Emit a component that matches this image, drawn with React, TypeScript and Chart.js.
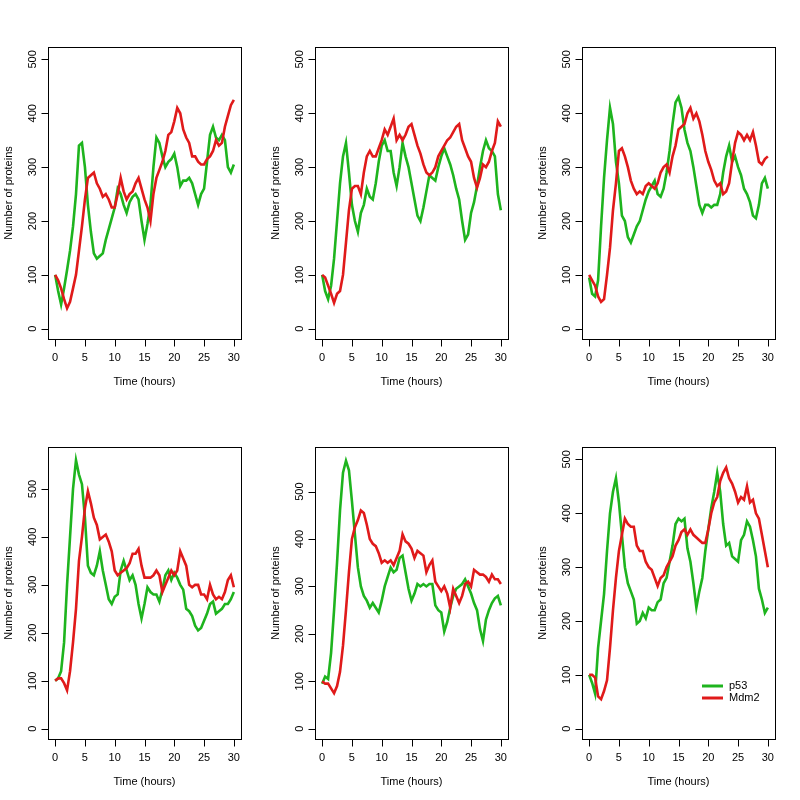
import React, { useEffect, useRef } from 'react';
import { Chart, registerables } from 'chart.js';
Chart.register(...registerables);

// ---- data ----
const times = [
  0, 0.5, 1, 1.5, 2, 2.5, 3, 3.5, 4, 4.5, 5, 5.5, 6, 6.5, 7, 7.5, 8, 8.5, 9, 9.5,
  10, 10.5, 11, 11.5, 12, 12.5, 13, 13.5, 14, 14.5, 15, 15.5, 16, 16.5, 17, 17.5, 18, 18.5, 19, 19.5,
  20, 20.5, 21, 21.5, 22, 22.5, 23, 23.5, 24, 24.5, 25, 25.5, 26, 26.5, 27, 27.5, 28, 28.5, 29, 29.5, 30,
];
const xTicks = [0, 5, 10, 15, 20, 25, 30];
const yTicks = [0, 100, 200, 300, 400, 500];
const seriesNames = ['p53', 'Mdm2'];
const xTitle = 'Time (hours)';
const yTitle = 'Number of proteins';

const p53_1 = [100, 70, 45, 75, 109, 145, 190, 250, 340, 345, 300, 230, 180, 140, 130, 135, 140, 165, 185, 205, 225, 260, 250, 230, 215, 235, 245, 250, 240, 200, 165, 195, 230, 300, 355, 345, 320, 300, 310, 315, 325, 300, 265, 275, 275, 280, 270, 250, 230, 250, 260, 310, 360, 375, 355, 350, 360, 350, 300, 290, 305];
const mdm2_1 = [100, 90, 75, 55, 38, 50, 75, 100, 145, 190, 240, 280, 285, 290, 270, 260, 245, 250, 240, 225, 225, 250, 280, 255, 240, 250, 255, 270, 280, 260, 240, 225, 200, 250, 280, 295, 310, 330, 360, 365, 385, 410, 400, 370, 355, 345, 320, 320, 310, 305, 305, 315, 320, 330, 350, 340, 345, 375, 395, 415, 425];

const p53_2 = [100, 70, 55, 80, 130, 200, 270, 320, 345, 290, 230, 200, 180, 215, 230, 260, 245, 240, 270, 310, 340, 350, 330, 330, 290, 265, 300, 345, 320, 300, 270, 240, 210, 200, 225, 255, 285, 280, 275, 300, 320, 335, 320, 305, 285, 260, 240, 200, 165, 175, 215, 235, 265, 300, 330, 350, 335, 330, 320, 250, 220];
const mdm2_2 = [100, 95, 80, 65, 48, 65, 70, 100, 160, 220, 260, 265, 265, 250, 290, 320, 330, 320, 320, 335, 350, 370, 360, 375, 390, 350, 360, 350, 360, 375, 380, 360, 340, 325, 305, 290, 285, 290, 300, 320, 330, 340, 350, 355, 365, 375, 380, 350, 335, 320, 310, 280, 262, 280, 305, 300, 310, 330, 345, 385, 375];

const p53_3 = [95, 65, 60, 90, 190, 280, 350, 410, 380, 310, 270, 210, 200, 170, 160, 175, 190, 200, 220, 240, 255, 265, 275, 250, 245, 260, 290, 330, 380, 420, 430, 410, 370, 345, 330, 300, 265, 230, 215, 230, 230, 225, 230, 230, 250, 290, 320, 340, 310, 320, 300, 285, 260, 250, 235, 210, 205, 230, 270, 280, 260];
const mdm2_3 = [100, 90, 80, 60, 50, 55, 100, 150, 220, 270, 330, 335, 320, 300, 275, 260, 250, 255, 250, 265, 270, 265, 260, 270, 290, 300, 305, 290, 320, 340, 370, 375, 380, 400, 410, 390, 400, 385, 360, 330, 310, 295, 275, 265, 270, 250, 255, 270, 310, 345, 365, 360, 350, 360, 350, 365, 340, 310, 305, 315, 320];

const p53_4 = [100, 105, 120, 180, 300, 400, 500, 560, 530, 510, 440, 340, 325, 320, 340, 370, 330, 300, 270, 260, 275, 280, 330, 350, 330, 310, 320, 300, 260, 230, 260, 295, 285, 280, 280, 265, 290, 320, 330, 310, 325, 315, 300, 290, 250, 245, 235, 215, 205, 210, 225, 240, 260, 265, 240, 245, 250, 260, 260, 270, 285];
const mdm2_4 = [100, 105, 105, 95, 80, 120, 180, 250, 350, 400, 460, 495, 470, 440, 425, 395, 400, 405, 390, 370, 330, 320, 325, 330, 335, 345, 365, 365, 375, 340, 315, 315, 315, 320, 330, 320, 285, 300, 315, 330, 320, 330, 370, 355, 340, 300, 295, 300, 300, 280, 280, 270, 300, 280, 270, 275, 270, 285, 310, 320, 295];

const p53_5 = [95, 110, 105, 160, 250, 350, 460, 540, 565, 545, 480, 410, 340, 300, 280, 270, 255, 265, 255, 245, 270, 300, 320, 340, 330, 335, 360, 365, 330, 295, 270, 285, 305, 300, 305, 300, 305, 305, 260, 250, 245, 205, 225, 255, 280, 295, 300, 305, 315, 300, 285, 265, 250, 210, 185, 230, 250, 265, 275, 280, 260];
const mdm2_5 = [100, 95, 95, 85, 75, 90, 120, 175, 250, 330, 400, 425, 440, 460, 455, 430, 400, 390, 385, 370, 350, 355, 350, 355, 345, 360, 375, 410, 395, 390, 380, 360, 375, 370, 365, 330, 345, 355, 310, 300, 290, 300, 285, 255, 295, 280, 265, 280, 305, 310, 300, 335, 330, 325, 325, 320, 310, 325, 315, 315, 305];

const p53_6 = [100, 85, 65, 150, 200, 250, 330, 400, 440, 465, 420, 360, 300, 270, 255, 240, 195, 200, 215, 205, 225, 220, 220, 235, 240, 270, 280, 310, 340, 380, 390, 385, 390, 335, 310, 270, 225, 255, 280, 330, 370, 410, 440, 475, 440, 380, 340, 345, 320, 315, 310, 350, 360, 385, 375, 350, 320, 260, 240, 215, 225];
const mdm2_6 = [100, 100, 95, 60, 55, 70, 90, 150, 220, 280, 330, 360, 390, 380, 375, 375, 340, 330, 330, 310, 300, 295, 280, 265, 280, 285, 300, 310, 320, 340, 350, 365, 370, 360, 370, 360, 355, 350, 345, 345, 370, 400, 420, 430, 460, 475, 485, 465, 455, 440, 420, 430, 425, 450, 420, 425, 400, 390, 360, 330, 300];

// ---- config ----
const GREEN = '#1eb41e';
const RED = '#e01a1a';
const FONT = '"Liberation Sans", Arial, sans-serif';

const panels = [
  { p53: p53_1, mdm2: mdm2_1, yMin: -19, yMax: 523, legend: false, left: 0, top: 0 },
  { p53: p53_2, mdm2: mdm2_2, yMin: -19, yMax: 523, legend: false, left: 267, top: 0 },
  { p53: p53_3, mdm2: mdm2_3, yMin: -19, yMax: 523, legend: false, left: 534, top: 0 },
  { p53: p53_4, mdm2: mdm2_4, yMin: -21.5, yMax: 587.5, legend: false, left: 0, top: 400 },
  { p53: p53_5, mdm2: mdm2_5, yMin: -21.7, yMax: 594, legend: false, left: 267, top: 400 },
  { p53: p53_6, mdm2: mdm2_6, yMin: -19, yMax: 523, legend: true, left: 534, top: 400 },
];

function framePlugin(showLegend: boolean) {
  return {
    id: 'rframe',
    afterDraw(chart: any) {
      const { ctx, chartArea: a, scales } = chart;
      const x = scales.x;
      const y = scales.y;
      ctx.save();
      ctx.strokeStyle = '#000';
      ctx.lineWidth = 1;
      const L = Math.round(a.left) + 0.5;
      const R = Math.round(a.right) + 0.5;
      const T = Math.round(a.top) + 0.5;
      const B = Math.round(a.bottom) + 0.5;
      ctx.strokeRect(L, T, R - L, B - T);

      // x axis
      ctx.beginPath();
      ctx.moveTo(Math.round(x.getPixelForValue(xTicks[0])) + 0.5, B);
      ctx.lineTo(Math.round(x.getPixelForValue(xTicks[xTicks.length - 1])) + 0.5, B);
      for (const v of xTicks) {
        const px = Math.round(x.getPixelForValue(v)) + 0.5;
        ctx.moveTo(px, B);
        ctx.lineTo(px, B + 7);
      }
      // y axis
      ctx.moveTo(L, Math.round(y.getPixelForValue(yTicks[0])) + 0.5);
      ctx.lineTo(L, Math.round(y.getPixelForValue(yTicks[yTicks.length - 1])) + 0.5);
      for (const v of yTicks) {
        const py = Math.round(y.getPixelForValue(v)) + 0.5;
        ctx.moveTo(L, py);
        ctx.lineTo(L - 7, py);
      }
      ctx.stroke();

      ctx.fillStyle = '#000';
      ctx.font = `11px ${FONT}`;
      ctx.textAlign = 'center';
      ctx.textBaseline = 'middle';
      for (const v of xTicks) {
        ctx.fillText(String(v), x.getPixelForValue(v), a.bottom + 19);
      }
      ctx.fillText(xTitle, (a.left + a.right) / 2, a.bottom + 43);
      for (const v of yTicks) {
        ctx.save();
        ctx.translate(a.left - 15.5, y.getPixelForValue(v));
        ctx.rotate(-Math.PI / 2);
        ctx.fillText(String(v), 0, 0);
        ctx.restore();
      }
      ctx.save();
      ctx.translate(a.left - 39, (a.top + a.bottom) / 2);
      ctx.rotate(-Math.PI / 2);
      ctx.fillText(yTitle, 0, 0);
      ctx.restore();

      if (showLegend) {
        const colors = [GREEN, RED];
        const rows = [a.bottom - 53, a.bottom - 41];
        ctx.lineWidth = 3;
        ctx.textAlign = 'left';
        seriesNames.forEach((name, i) => {
          ctx.strokeStyle = colors[i];
          ctx.beginPath();
          ctx.moveTo(a.right - 73, rows[i]);
          ctx.lineTo(a.right - 52, rows[i]);
          ctx.stroke();
          ctx.fillText(name, a.right - 46, rows[i]);
        });
      }
      ctx.restore();
    },
  };
}

function Panel({ cfg }: { cfg: any }) {
  const ref = useRef<HTMLCanvasElement>(null);
  useEffect(() => {
    const chart = new Chart(ref.current as HTMLCanvasElement, {
      type: 'line',
      data: {
        datasets: [
          {
            label: seriesNames[1],
            data: times.map((t, i) => ({ x: t, y: cfg.mdm2[i] })),
            borderColor: RED,
            backgroundColor: RED,
            borderWidth: 2.6,
            pointRadius: 0,
            tension: 0,
            order: 0,
          },
          {
            label: seriesNames[0],
            data: times.map((t, i) => ({ x: t, y: cfg.p53[i] })),
            borderColor: GREEN,
            backgroundColor: GREEN,
            borderWidth: 2.6,
            pointRadius: 0,
            tension: 0,
            order: 1,
          },
        ],
      },
      options: {
        animation: false,
        responsive: false,
        events: [],
        layout: { padding: { left: 48, top: 47, right: 26, bottom: 61 } },
        plugins: { legend: { display: false }, tooltip: { enabled: false } },
        scales: {
          x: { type: 'linear', display: false, min: -1.2, max: 31.2 },
          y: { type: 'linear', display: false, min: cfg.yMin, max: cfg.yMax },
        },
      },
      plugins: [framePlugin(cfg.legend)],
    } as any);
    return () => chart.destroy();
  }, []);
  return (
    <canvas
      ref={ref}
      width={267}
      height={400}
      style={{ position: 'absolute', left: cfg.left, top: cfg.top, width: 267, height: 400 }}
    />
  );
}

export default function App() {
  return (
    <div style={{ position: 'absolute', left: 0, top: 0, width: 800, height: 800, background: '#fff' }}>
      {panels.map((p, i) => (
        <Panel key={i} cfg={p} />
      ))}
    </div>
  );
}
